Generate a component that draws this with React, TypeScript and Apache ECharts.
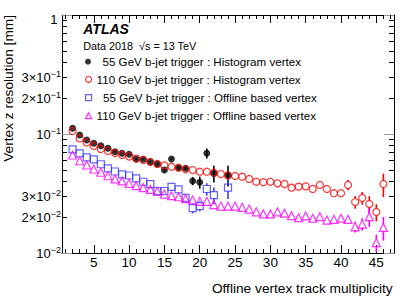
import React, { useEffect, useRef } from 'react';
import * as echarts from 'echarts';

const FONT = "'Liberation Sans', Arial, Helvetica, sans-serif";

// ---- data ----
const hist55X = [2, 3, 4, 5, 6, 7, 8, 9, 10, 11, 12, 13, 14, 15, 16, 17, 18, 19, 20, 21, 22, 24];
const hist55Y = [0.1116, 0.0981, 0.0891, 0.0835, 0.0797, 0.0758, 0.0710, 0.0689, 0.0675, 0.0617, 0.0613, 0.0585, 0.0560, 0.0498, 0.0617, 0.0521, 0.0515, 0.0403, 0.0393, 0.0689, 0.0467, 0.0452];
const hist55Err = [0.0008, 0.0008, 0.0008, 0.0008, 0.0008, 0.0008, 0.0008, 0.0008, 0.0008, 0.0008, 0.0008, 0.0008, 0.0008, 0.0015, 0.0015, 0.0015, 0.0015, 0.0032, 0.0046, 0.0068, 0.0075, 0.0090];

const hist110X = [2, 3, 4, 5, 6, 7, 8, 9, 10, 11, 12, 13, 14, 15, 16, 17, 18, 19, 20, 21, 22, 23, 24, 25, 26, 27, 28, 29, 30, 31, 32, 33, 34, 35, 36, 37, 38, 39, 40, 41, 42, 43, 44, 45, 46];
const hist110Y = [0.1060, 0.0917, 0.0848, 0.0793, 0.0748, 0.0720, 0.0692, 0.0666, 0.0647, 0.0622, 0.0605, 0.0582, 0.0560, 0.0544, 0.0531, 0.0521, 0.0505, 0.0498, 0.0482, 0.0482, 0.0473, 0.0461, 0.0448, 0.0444, 0.0438, 0.0419, 0.0397, 0.0393, 0.0397, 0.0385, 0.0380, 0.0354, 0.0361, 0.0363, 0.0345, 0.0373, 0.0345, 0.0318, 0.0318, 0.0373, 0.0268, 0.0290, 0.0258, 0.0221, 0.0380];
const hist110Err = [0.0005, 0.0005, 0.0005, 0.0005, 0.0005, 0.0005, 0.0005, 0.0005, 0.0005, 0.0005, 0.0005, 0.0005, 0.0005, 0.0005, 0.0005, 0.0005, 0.0005, 0.0005, 0.0005, 0.0005, 0.0005, 0.0005, 0.0005, 0.0005, 0.0005, 0.0005, 0.0005, 0.0005, 0.0005, 0.0005, 0.0005, 0.0005, 0.0005, 0.0005, 0.0012, 0.0012, 0.0012, 0.0019, 0.0019, 0.0037, 0.0033, 0.0035, 0.0042, 0.0036, 0.0085];

const off55X = [2, 3, 4, 5, 6, 7, 8, 9, 10, 11, 12, 13, 14, 15, 16, 17, 18, 19, 20, 21, 22, 24];
const off55Y = [0.0744, 0.0688, 0.0635, 0.0611, 0.0557, 0.0515, 0.0484, 0.0458, 0.0448, 0.0424, 0.0397, 0.0379, 0.0332, 0.0332, 0.0359, 0.0343, 0.0290, 0.0238, 0.0248, 0.0345, 0.0307, 0.0354];
const off55Err = [0.0005, 0.0005, 0.0005, 0.0005, 0.0005, 0.0005, 0.0005, 0.0005, 0.0005, 0.0005, 0.0005, 0.0005, 0.0010, 0.0010, 0.0010, 0.0010, 0.0017, 0.0023, 0.0024, 0.0041, 0.0049, 0.0070];

const off110X = [2, 3, 4, 5, 6, 7, 8, 9, 10, 11, 12, 13, 14, 15, 16, 17, 18, 19, 20, 21, 22, 23, 24, 25, 26, 27, 28, 29, 30, 31, 32, 33, 34, 35, 36, 37, 38, 39, 40, 41, 42, 43, 44, 45, 46];
const off110Y = [0.0666, 0.0596, 0.0549, 0.0508, 0.0477, 0.0446, 0.0419, 0.0403, 0.0385, 0.0368, 0.0354, 0.0343, 0.0330, 0.0313, 0.0303, 0.0297, 0.0286, 0.0279, 0.0272, 0.0272, 0.0255, 0.0248, 0.0248, 0.0248, 0.0242, 0.0234, 0.0222, 0.0213, 0.0213, 0.0222, 0.0216, 0.0206, 0.0198, 0.0205, 0.0196, 0.0202, 0.0189, 0.0192, 0.0196, 0.0192, 0.0166, 0.0175, 0.0202, 0.0122, 0.0164];
const off110Err = [0.0003, 0.0003, 0.0003, 0.0003, 0.0003, 0.0003, 0.0003, 0.0003, 0.0003, 0.0003, 0.0003, 0.0003, 0.0003, 0.0003, 0.0003, 0.0003, 0.0003, 0.0003, 0.0003, 0.0003, 0.0003, 0.0003, 0.0003, 0.0003, 0.0003, 0.0003, 0.0003, 0.0003, 0.0003, 0.0003, 0.0003, 0.0003, 0.0003, 0.0003, 0.0012, 0.0012, 0.0012, 0.0012, 0.0012, 0.0012, 0.0017, 0.0021, 0.0036, 0.0020, 0.0037];

const seriesNames = [
  '55 GeV b-jet trigger : Histogram vertex',
  '110 GeV b-jet trigger : Histogram vertex',
  '55 GeV b-jet trigger : Offline based vertex',
  '110 GeV b-jet trigger : Offline based vertex',
];

// ---- axis ticks / labels ----
const xMajorTicks = [5, 10, 15, 20, 25, 30, 35, 40, 45];
const xMinorTicks = [1, 2, 3, 4, 5, 6, 7, 8, 9, 10, 11, 12, 13, 14, 15, 16, 17, 18, 19, 20, 21, 22, 23, 24, 25, 26, 27, 28, 29, 30, 31, 32, 33, 34, 35, 36, 37, 38, 39, 40, 41, 42, 43, 44, 45, 46, 47];
const yMajorTicks = [0.01, 0.1, 1];
const yMinorTicks = [0.02, 0.03, 0.04, 0.05, 0.06, 0.07, 0.08, 0.09, 0.2, 0.3, 0.4, 0.5, 0.6, 0.7, 0.8, 0.9];
const yLabelValues = [0.01, 0.02, 0.03, 0.1, 0.2, 0.3];
const yLabelMantissa = ['10', '2×10', '3×10', '10', '2×10', '3×10'];
const yLabelExponent = ['−2', '−2', '−2', '−1', '−1', '−1'];
const yTopLabel = '1';

const X_MIN = 0.5;
const X_MAX = 47.5;
const Y_MIN = 0.01;
const Y_MAX = 1;

const frameLine = { show: true, onZero: false, lineStyle: { color: '#000', width: 1 } };

function xAxisDef(position: string, ticks: number[], len: number, withLine: boolean, withLabel: boolean) {
  return {
    type: 'value',
    min: X_MIN,
    max: X_MAX,
    position,
    axisLine: withLine ? frameLine : { show: false, onZero: false },
    axisTick: { show: true, inside: true, length: len, customValues: ticks, lineStyle: { color: '#000', width: 1 } },
    axisLabel: withLabel
      ? { show: true, customValues: xMajorTicks, fontSize: 13.5, fontFamily: FONT, color: '#000', margin: 2 }
      : { show: false },
    splitLine: { show: false },
  };
}

function nearestLabel(v: number) {
  let best = 0;
  for (let i = 0; i < yLabelValues.length; i++) {
    if (Math.abs(Math.log10(yLabelValues[i]) - v) < Math.abs(Math.log10(yLabelValues[best]) - v)) best = i;
  }
  return best;
}

function yAxisDef(position: string, ticks: number[], len: number, withLine: boolean, withLabel: boolean, tickColor: string) {
  return {
    type: 'value',
    min: Math.log10(Y_MIN),
    max: Math.log10(Y_MAX),
    position,
    axisLine: withLine ? frameLine : { show: false, onZero: false },
    axisTick: { show: true, inside: true, length: len, customValues: ticks.map((t) => Math.log10(t)), lineStyle: { color: tickColor, width: 1 } },
    axisLabel: withLabel
      ? {
          show: true,
          showMinLabel: true,
          hideOverlap: false,
          customValues: yLabelValues.map((t) => Math.log10(t)),
          margin: 1,
          formatter: (v: number) => {
            const i = nearestLabel(v);
            return `{m|${yLabelMantissa[i]}}{e|${yLabelExponent[i]}}`;
          },
          rich: {
            m: { fontSize: 13, fontFamily: FONT, color: '#000', lineHeight: 16 },
            e: { fontSize: 9, fontFamily: FONT, color: '#000', verticalAlign: 'top' },
          },
        }
      : { show: false },
    splitLine: { show: false },
  };
}

type Def = { name: string; xs: number[]; ys: number[]; errs: number[]; symbol: string; size: number; color: string; filled: boolean; gap: number };

const defs: Def[] = [
  { name: seriesNames[0], xs: hist55X, ys: hist55Y, errs: hist55Err, symbol: 'circle', size: 7, color: '#000000', filled: true, gap: 0 },
  { name: seriesNames[1], xs: hist110X, ys: hist110Y, errs: hist110Err, symbol: 'circle', size: 7, color: '#ff0000', filled: false, gap: 3.5 },
  { name: seriesNames[2], xs: off55X, ys: off55Y, errs: off55Err, symbol: 'rect', size: 7, color: '#3b3bff', filled: false, gap: 3.5 },
  { name: seriesNames[3], xs: off110X, ys: off110Y, errs: off110Err, symbol: 'triangle', size: 8, color: '#ff00ff', filled: false, gap: 3.5 },
];

function markerStyle(d: Def) {
  return d.filled
    ? { color: d.color, borderColor: d.color, borderWidth: 0 }
    : { color: 'rgba(255,255,255,0)', borderColor: d.color, borderWidth: 1.2 };
}

function buildSeries() {
  const out: any[] = [];
  defs.forEach((d) => {
    out.push({
      type: 'custom',
      name: d.name + ' errors',
      xAxisIndex: 0,
      yAxisIndex: 0,
      silent: true,
      clip: true,
      encode: { x: 0, y: 1 },
      data: d.xs.map((x, i) => [x, d.ys[i], d.errs[i]]),
      renderItem: (_p: any, api: any) => {
        const x = api.value(0);
        const y = api.value(1);
        const e = api.value(2);
        const c = api.coord([x, y]);
        const hi = api.coord([x, y + e]);
        const lo = api.coord([x, Math.max(y - e, 1e-6)]);
        const style = { stroke: d.color, lineWidth: 1.6 };
        const children: any[] = [];
        if (c[1] - d.gap > hi[1] + 0.5) children.push({ type: 'line', shape: { x1: c[0], y1: hi[1], x2: c[0], y2: c[1] - d.gap }, style });
        if (lo[1] > c[1] + d.gap + 0.5) children.push({ type: 'line', shape: { x1: c[0], y1: c[1] + d.gap, x2: c[0], y2: lo[1] }, style });
        return { type: 'group', children };
      },
    });
    out.push({
      type: 'scatter',
      name: d.name,
      xAxisIndex: 0,
      yAxisIndex: 0,
      symbol: d.symbol,
      symbolSize: d.size,
      silent: true,
      itemStyle: markerStyle(d),
      emphasis: { disabled: true },
      data: d.xs.map((x, i) => [x, d.ys[i]]),
    });
  });
  return out;
}

const legendRowY = [62.7, 80.3, 98.7, 116.7];

function buildOption() {
  return {
    animation: false,
    backgroundColor: '#ffffff',
    grid: { left: 62, right: 21, top: 15, bottom: 45, containLabel: false, outerBoundsMode: 'none' },
    xAxis: [
      xAxisDef('bottom', xMajorTicks, 8, true, true),
      xAxisDef('bottom', xMinorTicks, 4, false, false),
      xAxisDef('top', xMajorTicks, 8, true, false),
      xAxisDef('top', xMinorTicks, 4, false, false),
    ],
    yAxis: [
      { type: 'log', logBase: 10, min: Y_MIN, max: Y_MAX, show: false, position: 'left' },
      yAxisDef('left', yMajorTicks, 10, true, true, '#999999'),
      yAxisDef('left', yMinorTicks, 5, false, false, '#000000'),
      yAxisDef('right', yMajorTicks, 10, true, false, '#999999'),
      yAxisDef('right', yMinorTicks, 5, false, false, '#000000'),
    ],
    legend: defs.map((d, i) => ({
      show: true,
      orient: 'vertical',
      left: 85,
      top: legendRowY[i] - 7,
      itemWidth: 6,
      itemHeight: 6,
      itemGap: 0,
      padding: 0,
      selectedMode: false,
      textStyle: { fontSize: 11.6, fontFamily: FONT, color: '#000', padding: i % 2 === 0 ? [0, 0, 0, 6.5] : [0, 0, 0, 0] },
      data: [{ name: d.name, icon: d.symbol, itemStyle: markerStyle(d) }],
    })),
    graphic: [
      { type: 'text', x: 57.5, y: 19.8, silent: true, style: { text: yTopLabel, font: `13px ${FONT}`, fill: '#000', textAlign: 'right', textVerticalAlign: 'middle' } },
      { type: 'text', x: 83.3, y: 28.7, silent: true, style: { text: 'ATLAS', font: `italic bold 14px ${FONT}`, fill: '#000', textAlign: 'left', textVerticalAlign: 'middle' } },
      { type: 'text', x: 83.3, y: 45.5, silent: true, style: { text: 'Data 2018  √s = 13 TeV', font: `10.8px ${FONT}`, fill: '#000', textAlign: 'left', textVerticalAlign: 'middle' } },
      { type: 'text', x: 392.7, y: 288.5, silent: true, style: { text: 'Offline vertex track multiplicity', font: `13.7px ${FONT}`, fill: '#000', textAlign: 'right', textVerticalAlign: 'middle' } },
      { type: 'text', x: 8.5, y: 15, rotation: Math.PI / 2, silent: true, style: { text: 'Vertex z resolution [mm]', font: `13.7px ${FONT}`, fill: '#000', textAlign: 'right', textVerticalAlign: 'middle' } },
    ],
    series: buildSeries(),
  };
}

export default function App() {
  const ref = useRef<HTMLDivElement>(null);
  useEffect(() => {
    if (!ref.current) return;
    const chart = echarts.init(ref.current, undefined, { renderer: 'svg' });
    chart.setOption(buildOption() as any);
    return () => chart.dispose();
  }, []);
  return <div ref={ref} style={{ position: 'fixed', left: 0, top: 0, width: 415, height: 298, background: '#fff' }} />;
}
